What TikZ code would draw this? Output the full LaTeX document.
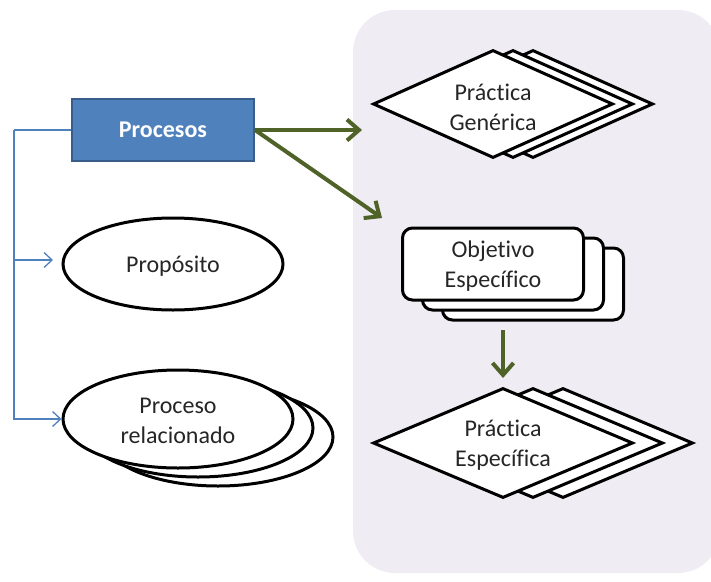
\documentclass[tikz,border=0pt]{standalone}
\usepackage{fontspec}
\setmainfont{Carlito}[Ligatures=NoCommon]
\usetikzlibrary{shapes.geometric,arrows.meta}

\definecolor{panelgray}{RGB}{239,237,243}
\definecolor{procfill}{RGB}{79,129,189}
\definecolor{procline}{RGB}{56,93,138}
\definecolor{olive}{RGB}{79,98,40}

\tikzset{
  shapeline/.style={draw=black, line width=3pt, fill=white, line join=miter},
  lbl/.style={font=\fontsize{24}{30}\selectfont, align=center, text=black!85, inner sep=0pt},
  pgdiam/.style={shapeline, diamond, inner sep=0pt,
                 minimum width=240pt, minimum height=108pt},
  pediam/.style={shapeline, diamond, inner sep=0pt,
                 minimum width=260pt, minimum height=110pt},
  objbox/.style={shapeline, rectangle, rounded corners=10pt, inner sep=0pt,
                 minimum width=181pt, minimum height=72pt},
  oval/.style={shapeline, ellipse, inner sep=0pt},
  greenarrow/.style={draw=olive, line width=4pt,
                     -{Straight Barb[length=12pt,width=21pt]}},
  bluelink/.style={draw=procfill, line width=1.3pt},
  bluearrow/.style={bluelink, -{Straight Barb[length=8pt,width=15pt]}}
}

\begin{document}
\begin{tikzpicture}[x=1pt,y=-1pt]
\useasboundingbox (0,0) rectangle (711,581);

% shaded panel on the right
\fill[panelgray, rounded corners=42pt] (353,10) rectangle (720,573);

% Procesos box
\node[rectangle, fill=procfill, draw=procline, line width=2pt,
      minimum width=182pt, minimum height=62pt, inner sep=0pt,
      font=\fontsize{24}{30}\selectfont\bfseries, text=white]
      (proc) at (163,130) {Procesos};

% Propósito
\node[oval, minimum width=220pt, minimum height=92pt] (prop) at (173,264) {};

% Proceso relacionado (stack of three)
\node[oval, minimum width=230pt, minimum height=98pt] (rel3) at (218,437) {};
\node[oval, minimum width=230pt, minimum height=98pt] (rel2) at (198,428) {};
\node[oval, minimum width=230pt, minimum height=98pt] (rel) at (178,419) {};

% Práctica Genérica (stack of three)
\node[pgdiam] (pg3) at (533,104) {};
\node[pgdiam] (pg2) at (513,104) {};
\node[pgdiam] (pg) at (493,104) {};

% Objetivo Específico (stack of three)
\node[objbox] (oe3) at (533,284) {};
\node[objbox] (oe2) at (513,274) {};
\node[objbox] (oe) at (493,264) {};

% Práctica Específica (stack of three)
\node[pediam] (pe3) at (563,443) {};
\node[pediam] (pe2) at (533,443) {};
\node[pediam] (pe) at (503,443) {};

% labels on the front shapes
\node[lbl] (propText) at ([yshift=-2pt]prop.center) {Propósito};
\node[lbl] (relText) at ([yshift=-2pt]rel.center) {Proceso\\relacionado};
\node[lbl] (pgText) at ([yshift=-3pt]pg.center) {Práctica\\Genérica};
\node[lbl] (oeText) at ([yshift=-2pt]oe.center) {Objetivo\\Específico};
\node[lbl] (peText) at ([yshift=-2pt]pe.center) {Práctica\\Específica};

% free ends of the connectors
\coordinate (elbow) at (14,130);
\coordinate (propTip) at (53,260);
\coordinate (pgTip) at (362,130);
\coordinate (oeTip) at (382,218);
\coordinate (downStart) at (503,330);
\coordinate (downTip) at (503,378);

% blue connector from Procesos
\draw[bluelink] (proc.west) -- (elbow);
\draw[bluearrow] (elbow) |- (propTip);
\draw[bluearrow] (elbow) |- (rel.west);

% green arrows
\draw[greenarrow] (proc.east) -- (pgTip);
\draw[greenarrow] (proc.east) -- (oeTip);
\draw[greenarrow] (downStart) -- (downTip);
\end{tikzpicture}
\end{document}
